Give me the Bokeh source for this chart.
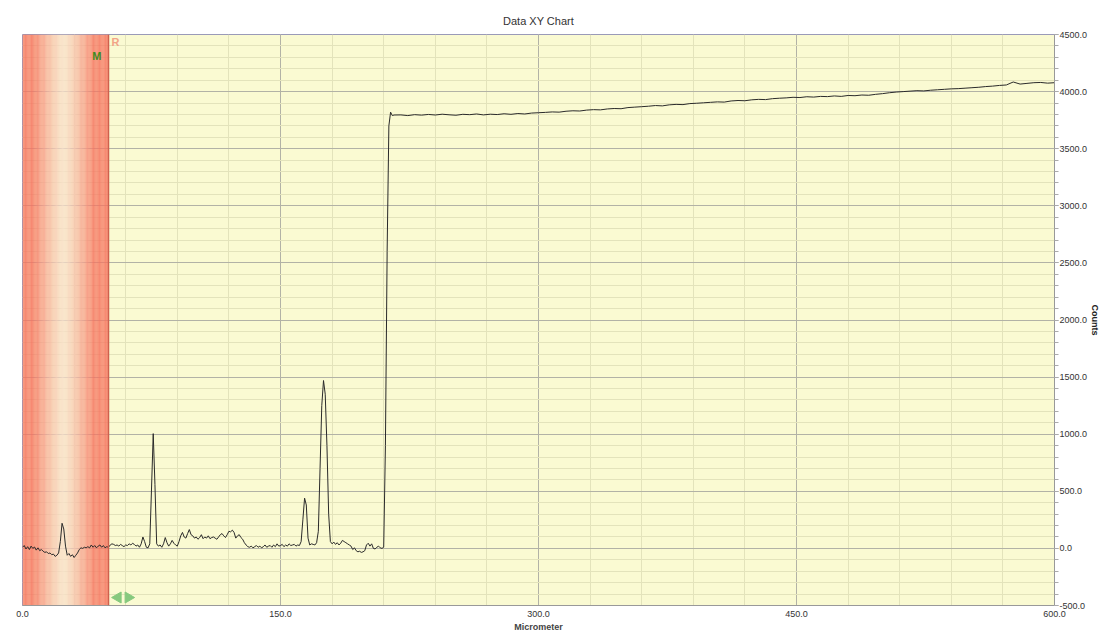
import math
from bokeh.plotting import figure
from bokeh.models import SingleIntervalTicker, NumeralTickFormatter, Range1d, Span, Label
from bokeh.embed import file_html
from bokeh.resources import INLINE

# ---------------- data ----------------
x_fine = list(range(0, 217))
y_fine = [
    10, 25, -5, 15, -10, 20, 0, 12, -15, 5,
    -20, -10, -25, -35, -30, -45, -40, -55, -50, -70,
    -60, -40, 60, 220, 170, 20, -60, -45, -70, -55,
    -80, -60, -40, -10, 5, 0, 10, 5, 15, 5,
    30, 10, 25, 5, 20, 30, 10, 25, 5, 15,
    10, 30, 40, 35, 25, 30, 20, 35, 25, 15,
    30, 25, 40, 30, 45, 35, 20, 30, 10, 40,
    100, 60, 10, 5, 40, 520, 1005, 560, 40, 20,
    30, 10, 40, 95, 50, 20, 40, 70, 45, 30,
    20, 60, 110, 140, 100, 90, 130, 165, 120, 110,
    90, 100, 80, 95, 120, 85, 100, 90, 110, 85,
    95, 100, 90, 80, 100, 120, 130, 110, 95, 120,
    150, 145, 160, 140, 90, 110, 120, 95, 80, 50,
    30, 15, 10, 20, 5, 15, 25, 10, 20, 5,
    15, 30, 10, 20, 25, 10, 30, 15, 40, 20,
    25, 35, 15, 30, 20, 40, 25, 30, 35, 20,
    30, 25, 60, 250, 440, 380, 90, 30, 40, 35,
    30, 50, 150, 700, 1250, 1470, 1350, 900, 300, 60,
    40, 55, 35, 50, 30, 45, 70, 60, 50, 40,
    30, 20, -10, 5, -20, -30, -25, -35, -30, -20,
    30, 45, 20, 40, 0, -5, 10, 20, 5, 0,
    10, 900, 2600, 3700, 3820, 3790, 3795,
]
x_plateau = list(range(220, 601, 4))
y_plateau = [
    3796, 3790, 3798, 3794, 3800, 3795, 3802, 3797, 3793, 3801,
    3798, 3804, 3796, 3802, 3799, 3806, 3801, 3808, 3804, 3812,
    3815, 3818, 3822, 3820, 3828, 3832, 3830, 3838, 3842, 3840,
    3848, 3852, 3850, 3860, 3864, 3868, 3872, 3878, 3875, 3884,
    3888, 3886, 3895, 3898, 3902, 3906, 3910, 3908, 3918, 3922,
    3920, 3928, 3932, 3930, 3938, 3942, 3945, 3950, 3948, 3955,
    3952, 3958, 3956, 3962, 3958, 3966, 3964, 3970, 3968, 3976,
    3982, 3990, 3996, 4000, 4004, 4008, 4006, 4012, 4016, 4020,
    4024, 4026, 4030, 4034, 4038, 4044, 4048, 4054, 4058, 4084,
    4066, 4072, 4078, 4080, 4074, 4078,
]
micrometer = x_fine + x_plateau
counts = y_fine + y_plateau

x_min, x_max = 0, 600
y_min, y_max = -500, 4500
band_start, band_end = 0, 50
band_light_center = 24
x_ticks_interval = 150
y_ticks_interval = 500

# ---------------- figure ----------------
FONT = "Liberation Sans"
p = figure(width=1103, height=635,
           x_range=Range1d(x_min, x_max), y_range=Range1d(y_min, y_max),
           y_axis_location="right", output_backend="svg", toolbar_location=None,
           title="Data XY Chart",
           min_border_left=22, min_border_right=40, min_border_top=34, min_border_bottom=30,
           background_fill_color="#fafad2", border_fill_color="white",
           outline_line_color="#9a9ab8", outline_line_width=1)

p.title.align = "center"
p.title.text_font = FONT
p.title.text_font_size = "11px"
p.title.text_font_style = "normal"
p.title.text_color = "#333333"
p.title.standoff = 16

# x axis
p.xaxis.ticker = SingleIntervalTicker(interval=x_ticks_interval, num_minor_ticks=5)
p.xaxis.formatter = NumeralTickFormatter(format="0.0")
p.xaxis.axis_label = "Micrometer"
p.xaxis.axis_label_text_font = FONT
p.xaxis.axis_label_text_font_size = "9px"
p.xaxis.axis_label_text_font_style = "bold"
p.xaxis.axis_label_standoff = 2
p.xaxis.major_label_text_font = FONT
p.xaxis.major_label_text_font_size = "9px"
p.xaxis.major_label_text_color = "#333333"
p.xaxis.major_label_standoff = 5
p.xaxis.major_tick_out = 0
p.xaxis.major_tick_in = 0
p.xaxis.minor_tick_out = 0
p.xaxis.minor_tick_in = 0
p.xaxis.axis_line_color = "#999999"

# y axis (right)
p.yaxis.ticker = SingleIntervalTicker(interval=y_ticks_interval, num_minor_ticks=5)
p.yaxis.formatter = NumeralTickFormatter(format="0.0")
p.yaxis.axis_label = "Counts"
p.yaxis.axis_label_text_font = FONT
p.yaxis.axis_label_text_font_size = "9px"
p.yaxis.axis_label_text_font_style = "bold"
p.yaxis.axis_label_text_color = "#222222"
p.yaxis.axis_label_standoff = 0
p.yaxis.major_label_text_font = FONT
p.yaxis.major_label_text_font_size = "9px"
p.yaxis.major_label_text_color = "#333333"
p.yaxis.major_label_standoff = 1
p.yaxis.major_tick_out = 4
p.yaxis.major_tick_in = 0
p.yaxis.minor_tick_out = 4
p.yaxis.minor_tick_in = 0
p.yaxis.major_tick_line_color = "#aaaaaa"
p.yaxis.minor_tick_line_color = "#aaaaaa"
p.yaxis.axis_line_color = "#999999"

# grids
for g in (p.xgrid, p.ygrid):
    g.grid_line_color = "#b2b2a6"
    g.grid_line_width = 1
    g.minor_grid_line_color = "#e3e3bb"
    g.minor_grid_line_width = 1

# gradient band (marker region)
edge = (246, 116, 96)
pale = (248, 224, 202)
lefts, rights, cols = [], [], []
n = 100
w = (band_end - band_start) / n
half = (band_end - band_start) / 2
for i in range(n):
    l = band_start + i * w
    c = l + w / 2
    t = min(1.0, abs(c - band_light_center) / half / 0.7) ** 1.3
    rgb = tuple(int(round(pale[k] + (edge[k] - pale[k]) * t)) for k in range(3))
    lefts.append(l)
    rights.append(l + w + 0.02)
    cols.append("#%02x%02x%02x" % rgb)
p.quad(left=lefts, right=rights, bottom=y_min, top=y_max,
       fill_color=cols, fill_alpha=0.9, line_color=None)

p.line(micrometer, counts, line_color="#2a2a2a", line_width=1)

p.add_layout(Span(location=band_end, dimension="height", line_color="#d0604e", line_width=1.5))

p.add_layout(Label(x=band_end, y=y_max, x_offset=3, y_offset=-1, text="R",
                   text_baseline="top", text_align="left", text_font=FONT,
                   text_font_size="11px", text_font_style="bold", text_color="#f2a487"))
p.add_layout(Label(x=band_end, y=y_max, x_offset=-7, y_offset=-15, text="M",
                   text_baseline="top", text_align="right", text_font=FONT,
                   text_font_size="11px", text_font_style="bold", text_color="#3f8a1e"))

arrow_y = y_min + 70
p.scatter(x=[band_end + 5.5, band_end + 11.5], y=[arrow_y, arrow_y], marker="triangle",
          angle=[math.pi / 2, -math.pi / 2], size=11,
          fill_color="#86c97e", line_color="#86c97e")

open("out.html", "w").write(file_html(p, INLINE, title="Data XY Chart"))
